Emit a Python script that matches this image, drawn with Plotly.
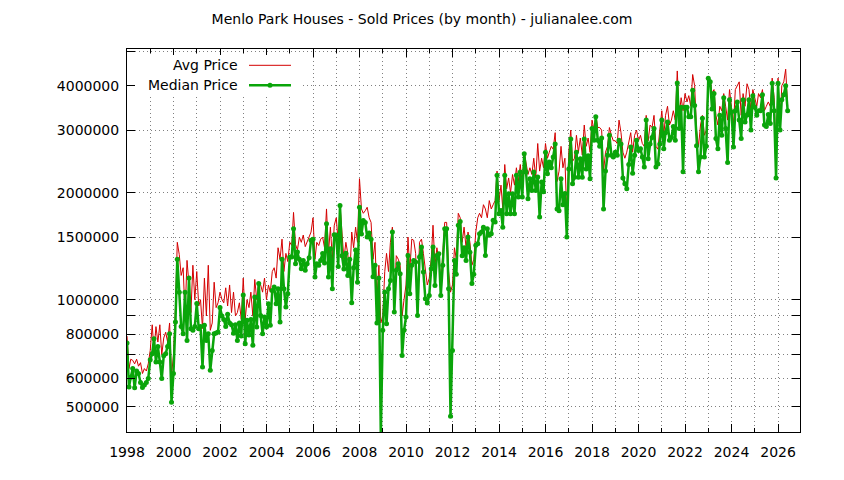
import pandas as pd
import plotly.graph_objects as go

# monthly sold prices, in thousands of dollars, Jan 1998 onward
median_k = [
    755, 568, 605, 640, 565, 630, 620, 585, 566, 575, 585, 600,        # 1998
    678, 705, 777, 668, 738, 668, 600, 695, 705, 738, 802, 515,        # 1999
    620, 865, 1300, 1050, 840, 802, 1050, 768, 1150, 829, 820, 840,    # 2000
    975, 829, 840, 647, 847, 768, 802, 633, 720, 802, 806, 811,        # 2001
    950, 900, 880, 840, 910, 860, 850, 805, 850, 768, 860, 790,        # 2002
    1030, 752, 875, 795, 879, 744, 1018, 838, 1110, 903, 802, 894,     # 2003
    838, 974, 848, 1062, 1086, 974, 1074, 865, 1300, 1074, 953, 1040,  # 2004
    1318, 1318, 1583, 1262, 1362, 1300, 1222, 1290, 1210, 1262, 1312, 1469,
    1478, 1158, 1262, 1249, 1290, 1348, 1268, 1636, 1158, 1392, 1074, 1524,
    1520, 1240, 1840, 1330, 1220, 1350, 1170, 1300, 980, 1230, 1380, 1120,
    1820, 1530, 1670, 1650, 1500, 1540, 1480, 1160, 1250, 860, 1150, 415,
    820, 1051, 856, 1074, 1133, 1550, 923, 1210, 1262, 1183, 697, 820,
    894, 1332, 1040, 1249, 1290, 1276, 903, 1318, 1406, 1196, 1006, 978,
    1028, 1222, 1406, 1096, 1332, 1347, 1028, 1249, 1583, 1583, 1074, 470,
    720, 1290, 1180, 1620, 1660, 1330, 1400, 1290, 1500, 1360, 1110, 1180,
    1422, 1437, 1533, 1550, 1600, 1332, 1583, 1517, 1533, 1672, 1654, 2238,
    1745, 1783, 1600, 2238, 1745, 1985, 1745, 1985, 1745, 2238, 1944, 2287,
    1944, 2574, 2287, 1924, 2190, 2030, 2287, 2030, 2213, 1708, 2143, 2011,
    2600, 2260, 2440, 2350, 2520, 2740, 1800, 1780, 2190, 1850, 1990, 1500,
    2330, 2830, 2120, 2210, 2600, 2210, 2490, 2210, 2830, 2330, 2540, 2190,
    3030, 2810, 3270, 2810, 2700, 2850, 1800, 2300, 2550, 2900, 2550, 2520,
    2600, 2550, 2810, 2740, 2200, 2120, 2050, 2400, 2690, 2270, 2550, 2810,
    2630, 2660, 2520, 2360, 3200, 2490, 2740, 2860, 3030, 2360, 2410, 2740,
    3200, 2660, 2950, 3160, 2810, 2860, 3070, 2810, 4070, 3030, 3480, 2290,
    3480, 3480, 3270, 3270, 3880, 3520, 2710, 2290, 2520, 3240, 2520, 2700,
    4200, 4100, 3440, 3800, 2840, 2660, 3300, 2900, 3700, 3030, 2430, 3650,
    3370, 2690, 3400, 3600, 3200, 2840, 3650, 3160, 3310, 3650, 3000, 3750,
    3480, 3300, 3400, 3400, 3770, 3100, 3070, 3320, 3130, 4060, 3400, 2200,
    4060, 3000, 3650, 3770, 4000, 3400,                                # 2026
]
avg_k = [
    790, 640, 680, 675, 660, 680, 650, 665, 620, 640, 630, 660,
    720, 850, 720, 840, 760, 850, 700, 780, 810, 760, 860, 610,
    700, 950, 1450, 1340, 1170, 1230, 900, 1290, 1100, 920, 1250, 1000,
    1200, 960, 1000, 830, 1150, 900, 1250, 820, 860, 1120, 950, 980,
    1050, 1000, 980, 1080, 960, 1100, 920, 1050, 900, 920, 980, 880,
    1150, 880, 1000, 950, 1050, 900, 1140, 1000, 1120, 1100, 1050, 1150,
    1000, 1100, 1050, 1200, 1230, 1150, 1400, 1300, 1480, 1200, 1350, 1280,
    1450, 1420, 1760, 1430, 1380, 1500, 1450, 1520, 1410, 1450, 1500, 1550,
    1700, 1300, 1450, 1420, 1480, 1500, 1400, 1800, 1350, 1600, 1300, 1620,
    1700, 1450, 1850, 1500, 1300, 1450, 1350, 1150, 1550, 1400, 1600, 1450,
    2190, 1800, 1750, 1780, 1820, 1700, 1650, 1300, 1450, 1000, 1250, 860,
    900, 1200, 1350, 1200, 1450, 1600, 980, 1330, 1300, 1250, 900, 1000,
    1100, 1500, 1200, 1480, 1470, 1350, 1000, 1450, 1480, 1350, 1200, 1100,
    1150, 1300, 1620, 1250, 1400, 1300, 1100, 1400, 1650, 1650, 1200, 1050,
    1100, 1400, 1300, 1750, 1700, 1450, 1600, 1400, 1550, 1450, 1250, 1300,
    1550, 1700, 1750, 1700, 1850, 1800, 1700, 1900, 1800, 1850, 1900, 2300,
    1900, 2100, 1800, 2400, 2050, 2200, 2000, 2250, 2100, 2350, 2150, 2400,
    2100, 2600, 2400, 2250, 2350, 2250, 2500, 2200, 2750, 2300, 2500, 2350,
    2750, 2500, 2600, 2700, 2650, 2950, 2150, 2300, 2700, 2350, 2500, 1700,
    2600, 3000, 2450, 2500, 2900, 2600, 2850, 2550, 3100, 2700, 2850, 2600,
    3200, 3000, 3300, 3050, 3050, 3000, 2300, 2600, 2700, 3050, 2900, 2800,
    2800, 2750, 3200, 2950, 2600, 2500, 2600, 2800, 2950, 2600, 2900, 3000,
    2800, 2900, 2750, 2700, 3300, 2800, 3100, 3050, 3300, 2700, 2650, 3000,
    3400, 2900, 3300, 3500, 3100, 3200, 3400, 3200, 4400, 3300, 3700, 3400,
    3800, 3600, 3750, 3500, 4300, 4000, 3000, 2700, 3100, 3300, 2900, 3000,
    4250, 4150, 3800, 3900, 3300, 3100, 3500, 3400, 3800, 3500, 3200, 3900,
    3500, 3100, 3900, 4000, 4100, 3300, 3800, 3500, 4050, 3900, 3400, 3900,
    3700, 3500, 3800, 3700, 3900, 3400, 3500, 3600, 3500, 4200, 3700, 2500,
    4200, 3100, 4000, 4100, 4450, 3500,
]

months = pd.date_range("1998-01-01", periods=len(median_k), freq="MS")
major_years = list(range(1998, 2027, 2))
minor_years = list(range(1999, 2027, 2))
y_ticks = [500000, 600000, 700000, 800000, 900000, 1000000, 1500000,
           2000000, 3000000, 4000000, 5000000]
y_labels = ["500000", "600000", "", "800000", "", "1000000", "1500000",
            "2000000", "3000000", "4000000", ""]

FONT = "DejaVu Sans"
RED = "#d40000"
GREEN = "#0aa50a"
GRID = dict(showgrid=True, gridcolor="#808080", griddash="1px,3px", gridwidth=1)

fig = go.Figure()
fig.add_trace(go.Scatter(x=months, y=[v * 1000 for v in avg_k], mode="lines",
                         line=dict(color=RED, width=1), name="Avg Price"))
fig.add_trace(go.Scatter(x=months, y=[v * 1000 for v in median_k], mode="lines+markers",
                         line=dict(color=GREEN, width=2.5),
                         marker=dict(color=GREEN, size=5), name="Median Price"))

axis_common = dict(showline=True, linecolor="black", linewidth=1, mirror="ticks",
                   ticks="inside", ticklen=8, tickcolor="black", zeroline=False,
                   tickfont=dict(family=FONT, size=14, color="black"), **GRID)

fig.update_xaxes(type="date", range=["1998-01-01", "2026-12-12"],
                 tickmode="array", tickvals=[f"{y}-01-01" for y in major_years],
                 ticktext=[str(y) for y in major_years],
                 minor=dict(tickmode="array", tickvals=[f"{y}-01-01" for y in minor_years],
                            ticks="inside", ticklen=4, tickcolor="black", **GRID),
                 ticklabelstandoff=7, **axis_common)
fig.update_yaxes(type="log", range=[5.6278, 6.7052], tickmode="array",
                 tickvals=y_ticks, ticktext=y_labels, ticklabelstandoff=4, **axis_common)

# page sits 8px in from the window corner, so pixel targets are offset by 8
OFF = 8
L, T, W, H = 127 - OFF, 49 - OFF, 673, 383


def px(xp):
    return (xp - 127) / W


def py(yp):
    return (432 - yp) / H


# gnuplot-style key: label text on the left, sample line on the right
fig.add_shape(type="rect", xref="paper", yref="paper",
              x0=px(135), x1=px(300), y0=py(96), y1=py(55),
              fillcolor="white", line=dict(width=0), layer="above")
for label, ly, color, width in [("Avg Price", 65.3, RED, 1),
                                ("Median Price", 85.3, GREEN, 2.5)]:
    fig.add_annotation(x=px(240), y=py(ly), xref="paper", yref="paper",
                       text=label, showarrow=False, xanchor="right", yanchor="middle",
                       font=dict(family=FONT, size=14, color="black"))
    fig.add_shape(type="line", xref="paper", yref="paper",
                  x0=px(249), x1=px(291), y0=py(ly), y1=py(ly),
                  line=dict(color=color, width=width), layer="above")
fig.add_shape(type="circle", xref="paper", yref="paper",
              x0=px(267.5), x1=px(272.5), y0=py(87.8), y1=py(82.8),
              fillcolor=GREEN, line=dict(width=0), layer="above")

fig.update_layout(
    width=844, height=480,
    margin=dict(l=L, r=844 - L - W, t=T, b=480 - T - H),
    paper_bgcolor="white", plot_bgcolor="white",
    showlegend=False,
    title=dict(text="Menlo Park Houses - Sold Prices (by month) - julianalee.com",
               x=(422 - OFF) / 844, xanchor="center",
               y=1 - (19 - OFF) / 480, yanchor="middle",
               font=dict(family=FONT, size=14, color="black")),
)

fig.write_html("out.html")
